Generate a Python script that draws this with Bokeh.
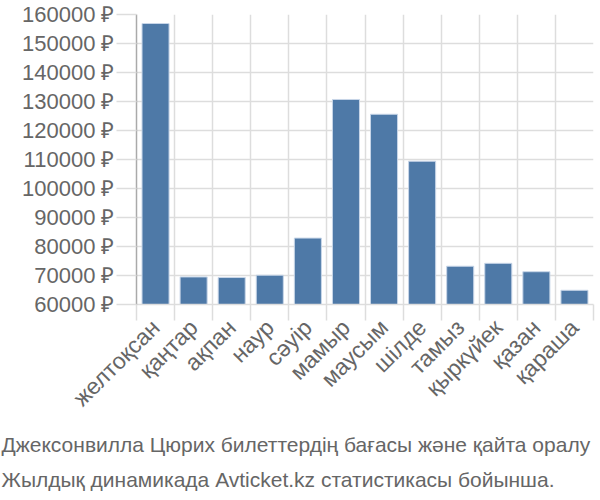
import math
from bokeh.plotting import figure
from bokeh.models import Range1d, FixedTicker, Title
from bokeh.embed import file_html
from bokeh.resources import INLINE

months = ["желтоқсан", "қаңтар", "ақпан", "наур", "сәуір", "мамыр",
          "маусым", "шілде", "тамыз", "қыркүйек", "қазан", "қараша"]
prices = [156900, 69500, 69300, 70100, 82900, 130700,
          125600, 109400, 73200, 74200, 71300, 64900]
y_ticks = [60000, 70000, 80000, 90000, 100000, 110000, 120000,
           130000, 140000, 150000, 160000]
caption1 = "Джексонвилла Цюрих билеттердің бағасы және қайта оралу"
caption2 = "Жылдық динамикада Avticket.kz статистикасы бойынша."

FONT = "Liberation Sans"
TXT = "#666666"
GRID = "#dddddd"

n = len(months)
centers = [i + 0.5 for i in range(n)]
bounds = [float(i) for i in range(n + 1)]

p = figure(width=600, height=500, output_backend="svg", toolbar_location=None,
           x_range=Range1d(0, n), y_range=Range1d(60000, 160000),
           min_border_left=136, min_border_right=7, min_border_top=14,
           min_border_bottom=196)
p.outline_line_color = None
p.background_fill_color = "white"
p.border_fill_color = "white"

p.vbar(x=centers, top=prices, bottom=60000, width=0.71,
       fill_color="#4e79a7", line_color="#c8d6e8", line_width=1)

# x axis
xa = p.xaxis[0]
xa.ticker = FixedTicker(ticks=centers, minor_ticks=bounds)
xa.major_label_overrides = {c: m for c, m in zip(centers, months)}
xa.major_label_orientation = math.pi / 4
xa.major_tick_line_color = None
xa.minor_tick_out = 16
xa.minor_tick_in = 0
xa.minor_tick_line_color = GRID
xa.minor_tick_line_width = 1.5
xa.axis_line_color = GRID
xa.axis_line_width = 1.5
xa.major_label_text_font = FONT
xa.major_label_text_font_size = "23px"
xa.major_label_text_color = TXT
xa.major_label_standoff = 3

# y axis
ya = p.yaxis[0]
ya.ticker = FixedTicker(ticks=y_ticks)
ya.major_label_overrides = {v: f"{v} ₽" for v in y_ticks}
ya.major_tick_out = 20
ya.major_tick_in = 0
ya.major_tick_line_color = GRID
ya.major_tick_line_width = 1.5
ya.minor_tick_line_color = None
ya.axis_line_color = "#aaaaaa"
ya.axis_line_width = 1.5
ya.major_label_text_font = FONT
ya.major_label_text_font_size = "22px"
ya.major_label_text_color = TXT
ya.major_label_standoff = 2

p.xgrid.grid_line_color = None
p.xgrid.minor_grid_line_color = GRID
p.xgrid.minor_grid_line_width = 1.5
p.ygrid.grid_line_color = GRID
p.ygrid.grid_line_width = 1.5

for t, so in ((caption1, 15), (caption2, 5)):
    p.add_layout(Title(text=t, align="left", offset=-135, text_font=FONT,
                       text_font_size="21px", text_color=TXT,
                       text_font_style="normal", standoff=so), "below")

open("out.html", "w").write(file_html(p, INLINE))
